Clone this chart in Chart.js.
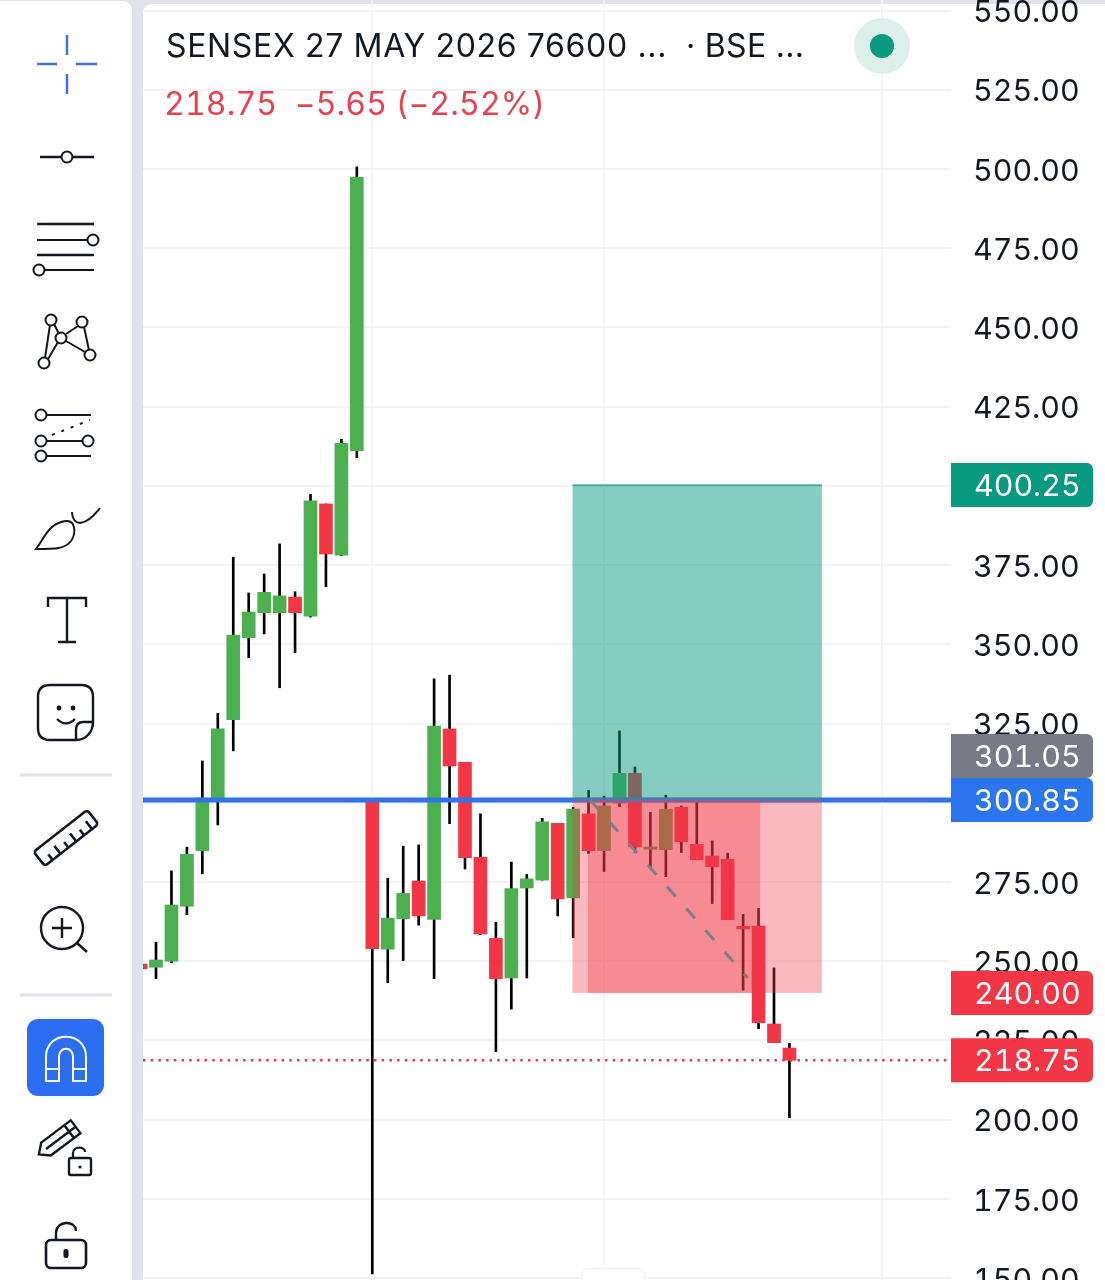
<!DOCTYPE html>
<html><head><meta charset="utf-8">
<script src="https://cdn.jsdelivr.net/npm/chart.js@4"></script>
<style>
@font-face{font-family:"InterTab";src:local("Inter");font-feature-settings:"tnum" 1}
html,body{margin:0;padding:0;width:1105px;height:1280px;overflow:hidden;background:#e0e3eb;font-family:Inter,sans-serif}
#side{position:absolute;left:0;top:1px;width:132px;height:1279px;background:#fff;border-top-right-radius:9px}
#card{position:absolute;left:143px;top:4px;width:962px;height:1276px;background:#fff;border-top-left-radius:9px}
#tab{position:absolute;left:581px;top:1268px;width:62px;height:14px;background:#fff;border:1px solid #f0f2f6;border-radius:7px 7px 0 0}
canvas{position:absolute;left:0;top:0;font-feature-settings:"tnum" 1;font-variant-numeric:tabular-nums}
svg{position:absolute;left:0;top:0}
.t{position:absolute;white-space:pre;line-height:1}
#title{left:166px;top:30px;font-size:32px;letter-spacing:.65px;color:#131722}
#exch{left:686px;top:30px;font-size:32px;letter-spacing:.3px;color:#131722}
#quote{left:164px;top:88px;font-size:32px;letter-spacing:.15px;font-feature-settings:"tnum" 1;color:#e8404f}
#dot1{position:absolute;left:854px;top:18px;width:56px;height:56px;border-radius:50%;background:#dcefeb}
#dot2{position:absolute;left:870px;top:34px;width:24px;height:24px;border-radius:50%;background:#089981}
</style></head><body>
<div id="side"></div><div id="card"></div>
<canvas id="c" width="1105" height="1280"></canvas>
<div id="tab"></div>
<div class="t" id="title">SENSEX 27 MAY 2026 76600 ...</div>
<div class="t" id="exch">· BSE ...</div>
<div class="t" id="quote">218.75  −5.65 (−2.52%)</div>
<div id="dot1"></div><div id="dot2"></div>
<svg width="133" height="1280" fill="none" stroke="#131722" stroke-width="2">
<g stroke="#3f6fd8" stroke-width="2.4"><path d="M67 35V55M67 74V94M37 64H57M76 64H97"/></g>
<path d="M40 157H61M73 157H94" stroke-width="2.6"/><circle cx="67" cy="157" r="5.5"/>
<path d="M37 224H94M37 255H94" stroke-width="2.6"/><path d="M37 240H87M45 270H94"/><circle cx="93" cy="240" r="5.5"/><circle cx="39" cy="270" r="5.5"/>
<path d="M50 325L45 358M54 324L59 334M48 359L58 342M66 334L78 326M84 327L89 350M66 341L85 352"/><circle cx="51" cy="320" r="5.5"/><circle cx="82" cy="322" r="5.5"/><circle cx="61" cy="338" r="5.5"/><circle cx="44" cy="363" r="5.5"/><circle cx="90" cy="355" r="5.5"/>
<circle cx="41" cy="415" r="5.5"/><path d="M47 415H91"/><path d="M52 435L90 420" stroke-dasharray="3 7"/><circle cx="41" cy="441" r="5.5"/><circle cx="88" cy="441" r="5.5"/><path d="M47 441H82M47 456H91"/><circle cx="41" cy="456" r="5.5"/>
<path d="M36 549C45 537 49 523 66 521C76 520 76 534 71 541C65 549 56 549 36 549Z" stroke-width="2"/><path d="M72 512C73 528 86 526 100 508" stroke-width="2"/>
<path d="M48 607V598H86V607M67 598V642M58 642H76" stroke-width="2.4"/>
<path d="M93 722V697Q93 685 81 685H50Q38 685 38 697V728Q38 740 50 740H76C86 740 93 732 93 722ZM93 722H83Q76 722 76 730V740" stroke-width="2.4"/><circle cx="59" cy="708" r="2.4" fill="#131722" stroke="none"/><circle cx="73" cy="708" r="2.4" fill="#131722" stroke="none"/><path d="M57 719Q66 728 75 719" stroke-width="2.2"/>
<path d="M20 775H112M20 995H112" stroke="#e0e3eb" stroke-width="3"/>
<g transform="translate(66 838) rotate(-38)" stroke-width="2.6"><rect x="-34" y="-9" width="68" height="18" rx="3"/><path d="M-24 9V2M-14 9V-1M-4 9V2M6 9V-1M16 9V2M26 9V-1"/></g>
<circle cx="62" cy="928" r="21" stroke-width="2.4"/><path d="M77 943L87 952M52 928H72M62 918V938" stroke-width="2.4"/>
<rect x="27" y="1019" width="77" height="77" rx="11" fill="#2b6ef2" stroke="none"/>
<path d="M46 1081V1057C46 1030 86 1030 86 1057V1081H73V1057C73 1046 59 1046 59 1057V1081ZM46 1069H59M73 1069H86" stroke="#fff" stroke-width="2"/>
<g transform="translate(58 1140) rotate(-37)" stroke-width="2.4"><path d="M-24 0L-15 -8H22V8H-15Z"/><path d="M-15 0H22M14 -8V8"/></g>
<path fill="#fff" stroke="#fff" d="M67 1150H92V1176H67Z"/><rect x="69" y="1158" width="22" height="17" rx="2" stroke-width="2.4"/><path d="M73 1158V1153C73 1146 85 1146 85 1152" stroke-width="2.2"/><circle cx="80" cy="1167" r="1.6" fill="#131722" stroke="none"/>
<rect x="46" y="1240" width="40" height="28" rx="5" stroke-width="2.6"/><path d="M56 1240V1233C56 1220 76 1220 76 1231" stroke-width="2.4"/><rect x="63.5" y="1249" width="5" height="9" rx="2" fill="#131722" stroke="none"/>
</svg>
<script>
const yTicksStep = 25;
const candleIndex = [-1,0,1,2,3,4,5,6,7,8,9,10,11,12,13,14,15,16,17,18,19,20,21,22,23,24,25,26,27,28,29,30,31,32,33,34,35,36,37,38,39,40,41];
const opens  = [249.1,248.1,250.0,267.35,284.9,300.9,326.2,352.1,360,360,364.9,358.9,394.3,378.1,411.1,300.9,253.8,263.4,275.3,263.2,323.3,312.8,282.8,257.2,244.7,273.1,275.6,293.5,270,296.5,284.9,299.9,309.3,285.3,285.2,298.6,286.9,283.2,282.2,261,261.1,230.2,222.6];
const closes = [247.6,250.4,267.75,283.75,301.5,323.3,352.95,360.2,366.4,365.3,360,395.3,378.5,413.4,497.4,254,263.6,271.4,264.3,324.2,311.6,282.7,258.6,244.5,272.9,276,294,269.7,298,284.9,299,309.3,286.1,286.1,298,287.7,282,279.8,263.1,260.2,230.6,224.3,218.75];
const highs  = [249.1,256,278.5,286,313.2,328.2,377.5,366.2,372.2,381.7,366.6,397.3,394.3,414.7,500.7,300.9,276.2,286.3,286.7,339.1,340.3,312.8,296.5,262.3,281.3,277.4,295.1,293.5,298.6,303.9,302.1,322.7,311.3,297,302.4,299,300.3,288,284.1,264.8,266.7,247.9,224.1];
const lows   = [247.6,244.5,249.5,264.7,277.6,293,316.4,345.8,353.3,336.3,347.4,358.6,368.2,378,408.9,151.3,243.2,250.2,261.4,244.5,293.4,279.1,258.4,221.5,234.9,244.7,275.6,264.3,257.4,284,278.3,298.8,284.3,279.3,276.7,284.3,282,268.2,263.1,240.9,228.7,224.3,200.6];
const verticalGrid = [14,29,47];
const xRange = [-0.8414,51.456];
const yRange = [149.41,553.33];
const entryPrice = 300.85, targetPrice = 400.25, stopPrice = 240.00, lastPrice = 218.75;
const positionSpan = [26.96,43.1];
const innerSpan = [27.95,39.1];
const diagonalX = [28.1,38.3], diagonalY = [300.9,244.7];
const tagLabels = ["400.25","301.05","300.85","240.00","218.75"];
const tagPrices = [400.25,300.85,300.85,240.00,218.75];
const tagShift  = [0,-44,0,0,0];
const tagColors = ["#089981","#787b86","#2b75ee","#f23645","#f23645"];
const UP="#4caf50", DOWN="#f23645";
const barColors = opens.map((o,i)=>closes[i]>=o?UP:DOWN);
const FONT='"InterTab","Inter",sans-serif';

const overlay={id:'overlay',afterDatasetsDraw(ch){
  const c=ch.ctx,x=ch.scales.x,y=ch.scales.y;
  const bx=x.getPixelForValue(positionSpan[0]),bw=x.getPixelForValue(positionSpan[1])-bx;
  const yT=y.getPixelForValue(targetPrice),yE=y.getPixelForValue(entryPrice),yS=y.getPixelForValue(stopPrice);
  c.save();
  c.fillStyle='rgba(8,153,129,0.49)';c.fillRect(bx,yT,bw,yE-yT);
  c.fillStyle='rgba(242,54,69,0.35)';c.fillRect(bx,yE,bw,yS-yE);
  const ix=x.getPixelForValue(innerSpan[0]),iw=x.getPixelForValue(innerSpan[1])-ix;
  c.fillRect(ix,yE,iw,yS-yE);
  c.fillStyle='rgba(8,153,129,0.6)';c.fillRect(bx,yT-1,bw,2);
  c.fillStyle='rgba(120,110,160,0.55)';c.fillRect(bx,yE-2.5,bw,5);
  c.strokeStyle='#7a8088';c.lineWidth=3;c.setLineDash([13,16]);
  c.beginPath();c.moveTo(x.getPixelForValue(diagonalX[0]),y.getPixelForValue(diagonalY[0]));
  c.lineTo(x.getPixelForValue(diagonalX[1]),y.getPixelForValue(diagonalY[1]));c.stroke();c.setLineDash([]);
  const left=ch.chartArea.right;
  tagLabels.forEach((t,i)=>{
    const py=y.getPixelForValue(tagPrices[i])+tagShift[i];
    c.fillStyle=tagColors[i];c.beginPath();c.roundRect(left,py-22,142,44,[0,6,6,0]);c.fill();
    c.fillStyle='#fff';c.font='30.4px '+FONT;c.textBaseline='middle';c.textAlign='left';
    c.fillText(t,left+23,py+2);
  });
  c.restore();
}};

function draw(){
new Chart(document.getElementById('c'),{
  type:'bar',
  data:{datasets:[
    {type:'line',data:[{x:xRange[0],y:entryPrice},{x:xRange[1],y:entryPrice}],borderColor:'#2f74e6',borderWidth:5,pointRadius:0,order:1},
    {type:'line',data:[{x:xRange[0],y:lastPrice},{x:xRange[1],y:lastPrice}],borderColor:'#dd3b55',borderWidth:2.4,borderDash:[2.5,5.2],pointRadius:0,order:1},
    {data:candleIndex.map((x,i)=>({x,y:[opens[i],closes[i]]})),backgroundColor:barColors,barThickness:13,grouped:false,order:2},
    {data:candleIndex.map((x,i)=>({x,y:[lows[i],highs[i]]})),backgroundColor:'#000',barThickness:2,grouped:false,order:3}
  ]},
  options:{
    responsive:false,animation:false,
    layout:{padding:{left:143,right:0,top:0,bottom:0}},
    plugins:{legend:{display:false},tooltip:{enabled:false}},
    scales:{
      x:{type:'linear',offset:false,min:xRange[0],max:xRange[1],
        afterBuildTicks(s){s.ticks=verticalGrid.map(v=>({value:v}));},
        afterFit(s){s.height=0;s.paddingLeft=0;s.paddingRight=0;},
        ticks:{display:false},
        grid:{offset:false,color:'#f2f4f8',lineWidth:2,drawTicks:false},border:{display:false}},
      y:{position:'right',min:yRange[0],max:yRange[1],
        afterFit(s){s.width=154;s.paddingTop=0;s.paddingBottom=0;},
        ticks:{stepSize:yTicksStep,includeBounds:false,padding:22,labelOffset:2.5,color:'#131722',
          font:{family:FONT,size:30.4},callback:v=>v.toFixed(2)},
        grid:{color:'#f2f4f8',lineWidth:2,drawTicks:false},border:{display:false}}
    }
  },
  plugins:[overlay]
});
}
let drawn=false;
function once(){if(!drawn){drawn=true;draw();}}
document.fonts.load('30.4px InterTab').then(once,once);
setTimeout(once,300);
</script>
</body></html>
